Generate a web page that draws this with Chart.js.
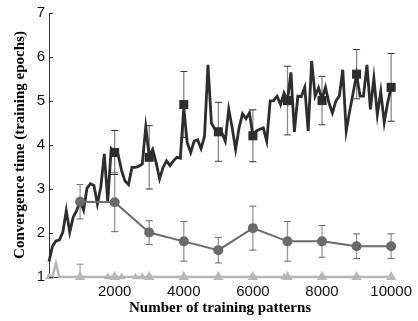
<!DOCTYPE html>
<html><head><meta charset="utf-8">
<script src="https://cdn.jsdelivr.net/npm/chart.js@4"></script>
<style>html,body{margin:0;padding:0;background:#fff}canvas{display:block}</style>
</head><body>
<canvas id="c" width="418" height="321"></canvas>
<script>
// ---- data ----
const patternsFine = [100,200,300,400,500,600,700,800,900,1000,
  1100,1200,1300,1400,1500,1600,1700,1800,1900,2000,
  2100,2200,2300,2400,2500,2600,2700,2800,2900,3000,
  3100,3200,3300,3400,3500,3600,3700,3800,3900,4000,
  4100,4200,4300,4400,4500,4600,4700,4800,4900,5000,
  5100,5200,5300,5400,5500,5600,5700,5800,5900,6000,
  6100,6200,6300,6400,6500,6600,6700,6800,6900,7000,
  7100,7200,7300,7400,7500,7600,7700,7800,7900,8000,
  8100,8200,8300,8400,8500,8600,8700,8800,8900,9000,
  9100,9200,9300,9400,9500,9600,9700,9800,9900,10000];
const darkFine = [1.35,1.70,1.82,1.84,2.02,2.51,2.02,2.36,2.51,2.72,
  2.52,3.02,3.12,3.08,2.66,3.05,3.80,2.72,3.92,3.85,
  3.78,3.42,3.18,3.10,3.49,3.49,3.52,3.57,4.41,3.75,
  3.90,3.60,3.23,3.49,3.64,3.53,3.64,3.72,3.70,4.85,
  4.05,3.83,4.09,4.12,3.92,4.20,5.82,4.50,4.36,4.32,
  4.28,4.09,4.81,4.39,3.90,4.39,4.71,4.60,4.73,4.20,
  4.32,4.36,4.39,4.09,5.00,5.01,5.11,4.92,5.18,5.00,
  5.65,4.30,5.11,5.10,5.31,4.32,5.91,5.11,5.30,5.05,
  5.31,4.96,4.73,5.00,5.11,5.71,4.32,4.77,5.18,5.60,
  5.11,5.11,5.82,4.81,5.52,4.69,5.22,4.51,4.96,5.31];
const lightFine = [1.05,1.00,1.32,1.00,1.00,1.00,1.00,1.00,1.00,1.00,
  1,1,1,1,1,1,1,1,1,1, 1,1,1,1,1,1,1,1,1,1,
  1,1,1,1,1,1,1,1,1,1, 1,1,1,1,1,1,1,1,1,1,
  1,1,1,1,1,1,1,1,1,1, 1,1,1,1,1,1,1,1,1,1,
  1,1,1,1,1,1,1,1,1,1, 1,1,1,1,1,1,1,1,1,1,
  1,1,1,1,1,1,1,1,1,1];
const patternsCoarse = [1000,2000,3000,4000,5000,6000,7000,8000,9000,10000];
const patternsDark = [2000,3000,4000,5000,6000,7000,8000,9000,10000];
const darkMean = [3.83,3.72,4.92,4.30,4.21,5.01,5.01,5.61,5.31];
const darkErr  = [0.50,0.72,0.75,0.67,0.59,0.78,0.55,0.56,0.77];
const midMean  = [2.71,2.70,2.01,1.81,1.61,2.11,1.81,1.81,1.70,1.70];
const midErr   = [0.39,0.67,0.27,0.45,0.29,0.50,0.45,0.36,0.28,0.28];
const lightMean = [1,1,1,1,1,1,1,1,1,1];
const lightErr  = [0.29,0,0,0,0,0,0,0,0,0];
const lightExtraX = [100,1800,2200,2600,2800,6900];
const lightExtraY = [1,1,1,1,1,1];
const xTickValues = [2000,4000,6000,8000,10000];
const yTickValues = [1,2,3,4,5,6,7];
const xTitle = 'Number of training patterns';
const yTitle = 'Convergence time (training epochs)';

const pts = (xs, ys) => xs.map((x, i) => ({x: x, y: ys[i]}));

const DARK = '#2d2d2d', MID = '#6a6a6a', LIGHT = '#b6b6b6';

const errorBarPlugin = {
  id: 'errbars',
  beforeDatasetsDraw(chart) {
    const {ctx, chartArea: a, scales: {x, y}} = chart;
    ctx.save();
    ctx.beginPath();
    ctx.rect(a.left, a.top - 5, a.right - a.left + 10, a.bottom - a.top + 5);
    ctx.clip();
    chart.data.datasets.forEach(ds => {
      if (!ds.errs) return;
      ds.data.forEach((p, i) => {
        const e = ds.errs[i];
        if (!e) return;
        const px = x.getPixelForValue(p.x);
        const top = y.getPixelForValue(p.y + e);
        const bot = y.getPixelForValue(p.y - e);
        ctx.strokeStyle = ds.errLine;
        ctx.lineWidth = 1.3;
        ctx.beginPath(); ctx.moveTo(px, top); ctx.lineTo(px, bot); ctx.stroke();
        ctx.strokeStyle = ds.errCap;
        ctx.lineWidth = 1;
        ctx.beginPath();
        ctx.moveTo(px - 3.5, top); ctx.lineTo(px + 3.5, top);
        ctx.moveTo(px - 3.5, bot); ctx.lineTo(px + 3.5, bot);
        ctx.stroke();
      });
    });
    ctx.restore();
  },
  afterDraw(chart) {
    const {ctx, chartArea: a, scales: {y}} = chart;
    ctx.save();
    ctx.strokeStyle = '#333';
    ctx.lineWidth = 1;
    yTickValues.forEach(v => {
      const py = Math.round(y.getPixelForValue(v)) + 0.5;
      ctx.beginPath(); ctx.moveTo(a.left, py); ctx.lineTo(a.left + 4, py); ctx.stroke();
    });
    ctx.restore();
  }
};

const tickFont = {family: "'Liberation Sans', Arial, sans-serif", size: 15};
const titleFont = {family: "'Liberation Serif', 'Times New Roman', serif", size: 15, weight: 'bold'};

new Chart(document.getElementById('c'), {
  type: 'line',
  data: {
    datasets: [
      {data: pts(patternsCoarse, midMean), errs: midErr, errLine: '#999', errCap: '#666',
       borderColor: MID, backgroundColor: MID, borderWidth: 2, pointStyle: 'circle',
       pointRadius: 5, pointBorderWidth: 0, pointBackgroundColor: MID, clip: false},
      {data: pts(patternsDark, darkMean), errs: darkErr, errLine: '#888', errCap: '#333',
       showLine: false, pointStyle: 'rect', pointRadius: 6.4, pointBorderWidth: 0,
       pointBackgroundColor: DARK, clip: false},
      {data: pts(patternsFine, darkFine), borderColor: DARK, borderWidth: 2.8,
       pointRadius: 0, clip: false},
      {data: pts(patternsCoarse, lightMean), errs: lightErr, errLine: '#aaa', errCap: '#888',
       showLine: false, pointStyle: 'triangle', pointRadius: 6, pointBorderWidth: 0,
       pointBackgroundColor: LIGHT, clip: false},
      {data: pts(lightExtraX, lightExtraY), showLine: false, pointStyle: 'triangle',
       pointRadius: 4.4, pointBorderWidth: 0, pointBackgroundColor: LIGHT, clip: false},
      {data: pts(patternsFine, lightFine), borderColor: LIGHT, borderWidth: 2.5,
       pointRadius: 0, clip: false}
    ]
  },
  options: {
    responsive: false,
    animation: false,
    events: [],
    elements: {line: {tension: 0}},
    layout: {padding: {top: 11, right: 26, left: 0, bottom: 0}},
    plugins: {legend: {display: false}, tooltip: {enabled: false}},
    scales: {
      x: {
        type: 'linear', min: 100, max: 10000,
        grid: {display: false, drawTicks: false},
        border: {display: true, color: '#333', width: 1},
        afterBuildTicks: s => { s.ticks = xTickValues.map(v => ({value: v})); },
        ticks: {font: tickFont, color: '#111', padding: 6, maxRotation: 0, autoSkip: false,
                callback: v => String(v)},
        title: {display: true, text: xTitle, font: titleFont, color: '#000', padding: {top: 0, bottom: 4}},
        afterFit: s => { s.height = 44; }
      },
      y: {
        type: 'linear', min: 1, max: 7,
        grid: {display: false, drawTicks: false},
        border: {display: true, color: '#333', width: 1},
        afterBuildTicks: s => { s.ticks = yTickValues.map(v => ({value: v})); },
        ticks: {font: tickFont, color: '#111', padding: 4, callback: v => String(v)},
        title: {display: true, text: yTitle, font: titleFont, color: '#000', padding: {top: 11, bottom: 0}},
        afterFit: s => { s.width = 49; }
      }
    }
  },
  plugins: [errorBarPlugin]
});
</script>
</body></html>
